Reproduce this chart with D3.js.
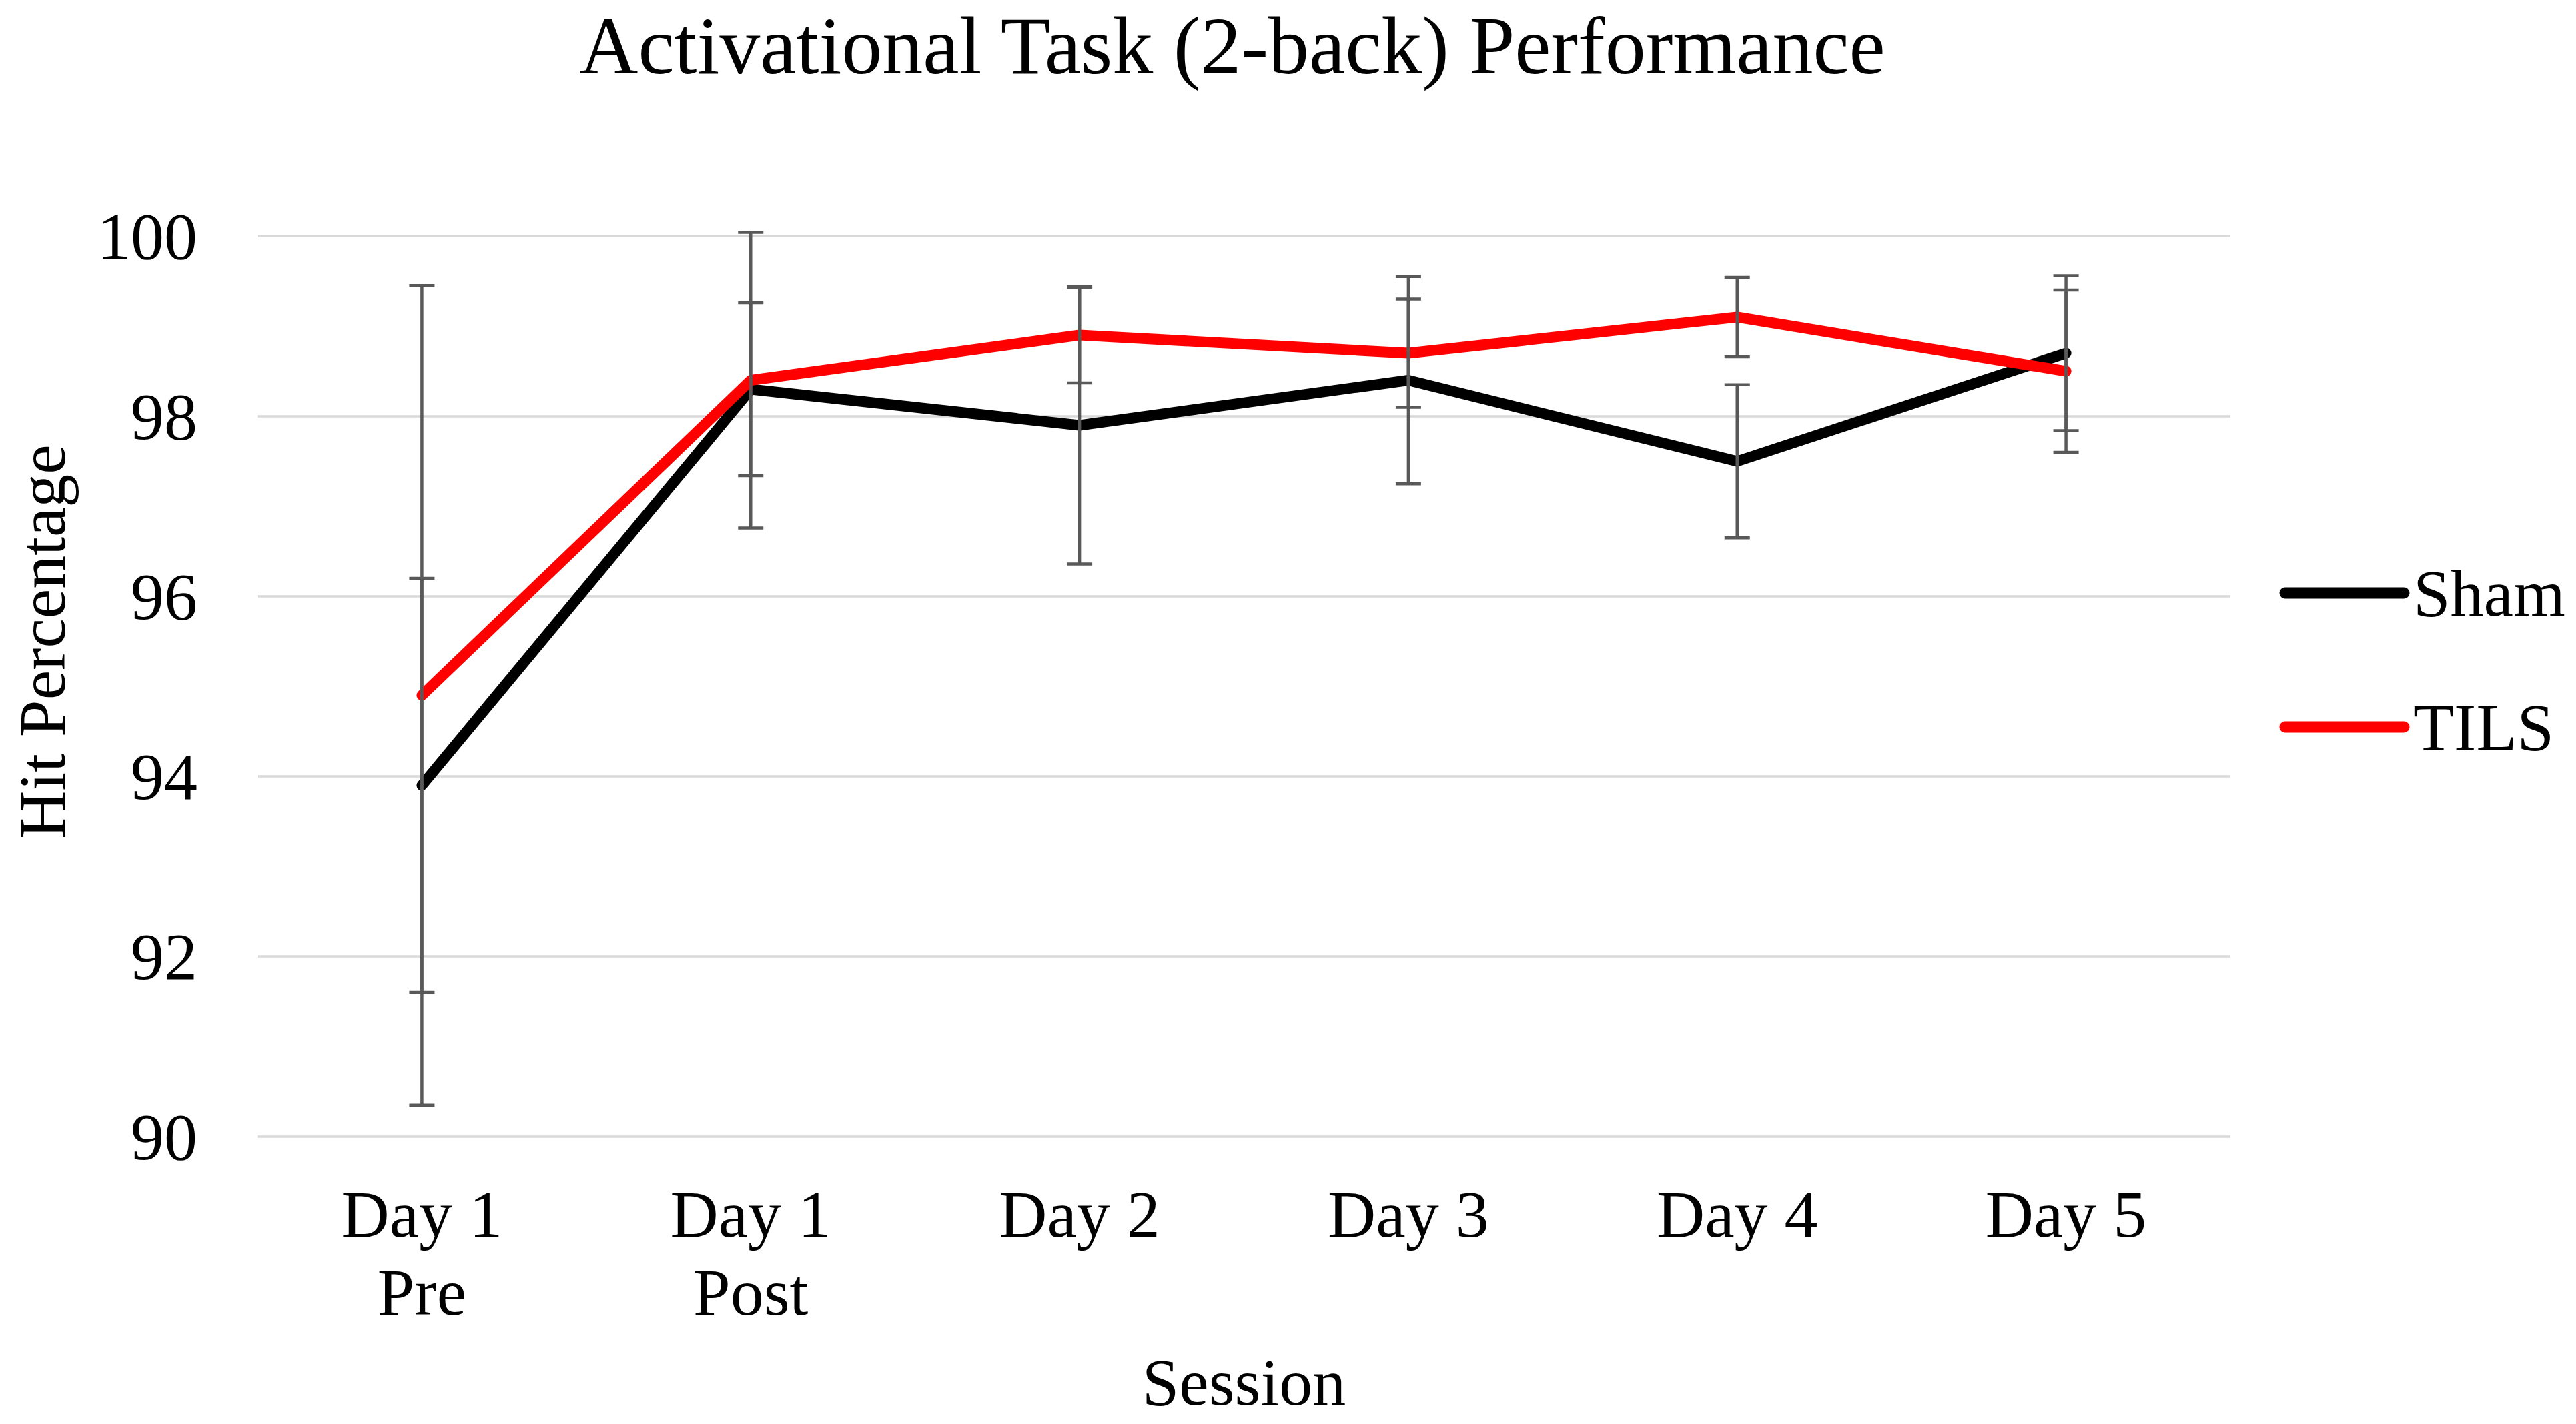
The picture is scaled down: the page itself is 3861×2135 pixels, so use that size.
<!DOCTYPE html>
<html lang="en">
<head>
    <meta charset="utf-8">
    <script src="https://d3js.org/d3.v7.min.js" charset="utf-8"></script>
    <style>
        body { margin: 0; background: #fff; }
        text { font-family: "Liberation Serif", "Times New Roman", serif; fill: #000; }
    </style>
</head>
<body>
<svg id="chart" width="3861" height="2135"></svg>
<script>
    // values
    var sessions = [["Day 1", "Pre"], ["Day 1", "Post"], ["Day 2"], ["Day 3"], ["Day 4"], ["Day 5"]];
    var shamMean = [93.9, 98.3, 97.9, 98.4, 97.5, 98.7];
    var shamErr = [2.3, 0.96, 1.54, 1.15, 0.85, 0.86];
    var tilsMean = [94.9, 98.4, 98.9, 98.7, 99.1, 98.5];
    var tilsErr = [4.55, 1.64, 0.53, 0.6, 0.44, 0.9];
    var yTicks = [90, 92, 94, 96, 98, 100];
    var seriesNames = ["Sham", "TILS"];
    var seriesColors = ["#000000", "#ff0000"];

    var svg = d3.select("#chart"),
        margin = {top: 354, right: 518, bottom: 431, left: 386},
        width = +svg.attr("width"),
        height = +svg.attr("height");

    var x = d3.scaleBand()
        .domain(d3.range(sessions.length))
        .range([margin.left, width - margin.right]);

    var y = d3.scaleLinear()
        .domain([90, 100])
        .range([height - margin.bottom, margin.top]);

    var cx = i => x(i) + x.bandwidth() / 2;

    // horizontal grid lines
    svg.append("g")
        .selectAll("line")
        .data(yTicks)
        .join("line")
        .attr("x1", margin.left)
        .attr("x2", width - margin.right)
        .attr("y1", d => y(d))
        .attr("y2", d => y(d))
        .style("stroke", "#d9d9d9")
        .style("stroke-width", 3.5);

    // y tick labels
    svg.append("g")
        .selectAll("text")
        .data(yTicks)
        .join("text")
        .attr("x", 296)
        .attr("y", d => y(d))
        .attr("dy", "0.34em")
        .attr("text-anchor", "end")
        .style("font-size", "100px")
        .text(d => d);

    // x category labels (two lines where needed)
    var xl = svg.append("g")
        .selectAll("text")
        .data(sessions)
        .join("text")
        .attr("text-anchor", "middle")
        .style("font-size", "100px");
    xl.selectAll("tspan")
        .data((d, i) => d.map(s => ({s: s, i: i})))
        .join("tspan")
        .attr("x", d => cx(d.i))
        .attr("y", (d, j) => 1854 + j * 117)
        .text(d => d.s);

    var series = [
        {name: seriesNames[0], color: seriesColors[0], mean: shamMean, err: shamErr},
        {name: seriesNames[1], color: seriesColors[1], mean: tilsMean, err: tilsErr}
    ];

    var line = d3.line()
        .x((d, i) => cx(i))
        .y(d => y(d));

    series.forEach(function(s) {
        svg.append("path")
            .attr("d", line(s.mean))
            .attr("fill", "none")
            .attr("stroke", s.color)
            .attr("stroke-width", 16)
            .attr("stroke-linejoin", "round")
            .attr("stroke-linecap", "round");
    });

    // error bars
    series.forEach(function(s) {
        var g = svg.append("g")
            .style("stroke", "#595959")
            .style("stroke-width", 4.5);
        s.mean.forEach(function(m, i) {
            var hi = y(m + s.err[i]), lo = y(m - s.err[i]);
            g.append("line").attr("x1", cx(i)).attr("x2", cx(i)).attr("y1", hi).attr("y2", lo);
            g.append("line").attr("x1", cx(i) - 19).attr("x2", cx(i) + 19).attr("y1", hi).attr("y2", hi);
            g.append("line").attr("x1", cx(i) - 19).attr("x2", cx(i) + 19).attr("y1", lo).attr("y2", lo);
        });
    });

    // legend
    var legend = svg.append("g")
        .selectAll("g")
        .data(series)
        .join("g")
        .attr("transform", (d, i) => "translate(3425," + (889 + i * 201) + ")");
    legend.append("line")
        .attr("x1", 0)
        .attr("x2", 178)
        .attr("stroke", d => d.color)
        .attr("stroke-width", 17)
        .attr("stroke-linecap", "round");
    legend.append("text")
        .attr("x", 192)
        .attr("dy", "0.34em")
        .style("font-size", "100px")
        .text(d => d.name);

    // titles
    svg.append("text")
        .attr("x", 1847)
        .attr("y", 110)
        .attr("text-anchor", "middle")
        .style("font-size", "122px")
        .text("Activational Task (2-back) Performance");

    svg.append("text")
        .attr("x", (margin.left + width - margin.right) / 2)
        .attr("y", 2106)
        .attr("text-anchor", "middle")
        .style("font-size", "100px")
        .text("Session");

    svg.append("text")
        .attr("transform", "translate(97,962) rotate(-90)")
        .attr("text-anchor", "middle")
        .style("font-size", "100px")
        .text("Hit Percentage");
</script>
</body>
</html>
